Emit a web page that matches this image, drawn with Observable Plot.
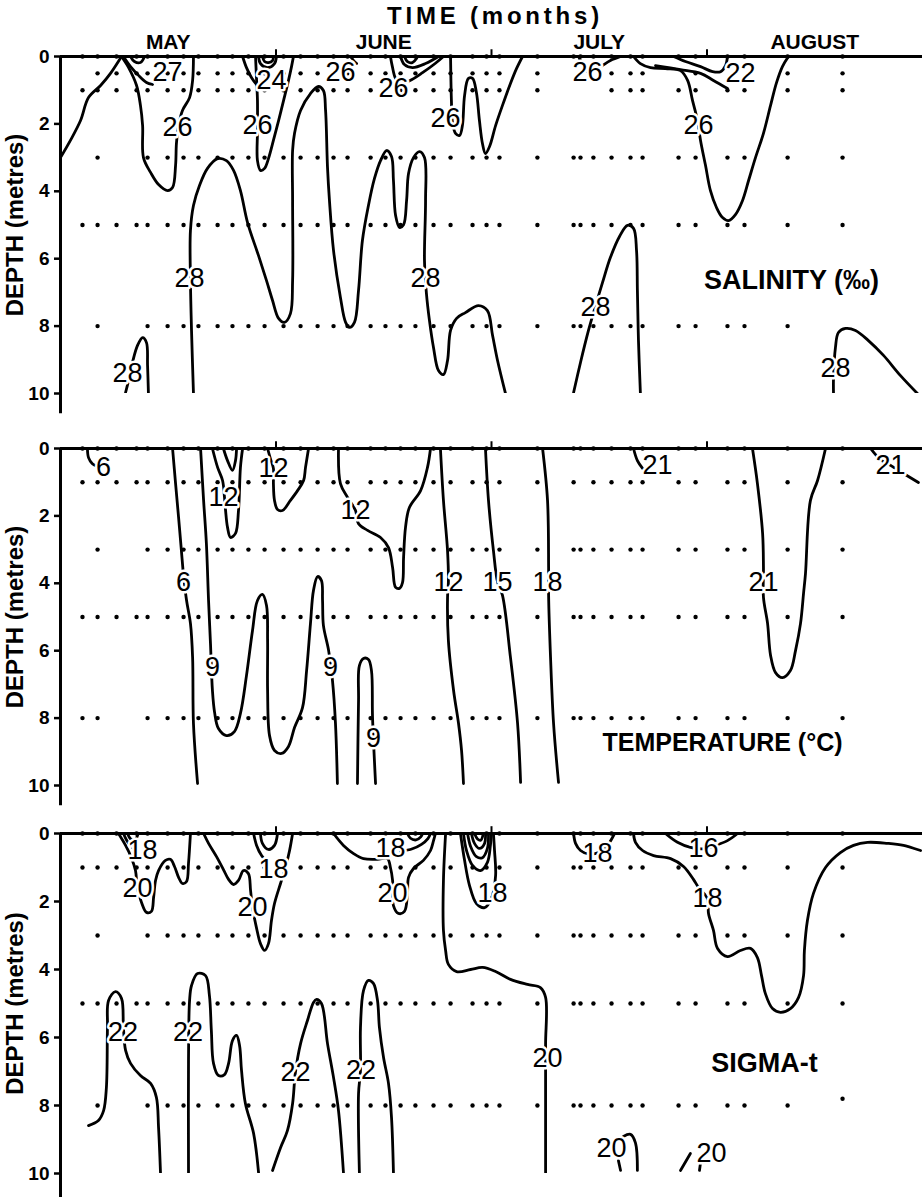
<!DOCTYPE html>
<html><head><meta charset="utf-8">
<script src="https://cdn.jsdelivr.net/npm/d3@7"></script>
<script src="https://cdn.jsdelivr.net/npm/@observablehq/plot@0.6"></script>
<style>
body{margin:0;background:#fff;}
#fig{position:relative;width:923px;height:1197px;overflow:hidden;background:#fff;font-family:"Liberation Sans",Arial,sans-serif;}
.panel{position:absolute;left:0;z-index:1;}
#title{position:absolute;left:345px;top:1px;width:300px;text-align:center;font-size:24px;font-weight:bold;letter-spacing:3.8px;line-height:30px;z-index:5;}
</style></head><body><div id="fig"><div id="title">TIME (months)</div></div>
<script>
// ---------- axes ----------
const monthNames = ["MAY", "JUNE", "JULY", "AUGUST"];
const monthCentres = [0.5, 1.5, 2.5, 3.5];
const monthBounds = [1, 2, 3];
const depthTicks = [0, 2, 4, 6, 8, 10];

// ---------- sampling stations (time in months from 1 May) ----------
const stations = [0.102, 0.172, 0.260, 0.353, 0.404, 0.497, 0.571, 0.640, 0.729, 0.798, 0.872, 0.947,
  1.035, 1.114, 1.193, 1.267, 1.332, 1.439, 1.508, 1.578, 1.647, 1.731, 1.810, 1.912, 1.977, 2.037,
  2.213, 2.381, 2.413, 2.473, 2.557, 2.645, 2.701, 2.868, 2.947, 3.095, 3.174, 3.374, 3.629];
const salDepths = [0, 0.5, 1, 3, 5, 8];
const tempDepths = [0, 1, 3, 5, 8];
const sigDepths = [0, 1, 3, 5, 8];
const salMissing = [[0.5, [0.102, 2.381, 2.413, 2.473, 2.868, 3.095, 3.174]], [1, [2.381, 2.413, 2.473]], [3, [0.102, 0.260, 0.353]], [8, [0.102, 0.260, 0.353, 3.629]]];
const tempMissing = [[1, [2.413]], [3, [0.102, 0.260, 0.353]], [8, [0.260, 0.353]]];
const sigMissing = [[3, [0.102, 0.260, 0.353]], [8, [0.102, 0.260, 0.353, 3.629]]];
const sigExtraDots = [[3.629, 7.8]];

// ---------- salinity isolines [time, depth] ----------
const salLines = [
  [[0,3.00],[0.046,2.49],[0.093,1.90],[0.130,1.22],[0.186,0.86],[0.232,0.50],[0.283,0]],
  [[0.283,0],[0.316,0.33],[0.353,0.86],[0.371,1.45],[0.381,2.05],[0.385,3.00],[0.418,3.44],[0.455,3.80],[0.497,3.98],[0.520,3.89],[0.534,3.23],[0.538,2.58],[0.548,2.05],[0.566,1.60],[0.599,1.22],[0.613,0.71],[0.617,0]],
  [[0.292,0],[0.325,0.30],[0.362,0.56],[0.399,0.77],[0.427,0.83]],
  [[0.325,0],[0.343,0.15],[0.371,0.18],[0.390,0]],
  [[0.302,9.97],[0.316,9.61],[0.334,9.08],[0.357,8.58],[0.381,8.34],[0.399,8.49],[0.404,9.17],[0.408,10]],
  [[0.845,0],[0.863,0.33],[0.886,0.62],[0.910,0.83],[0.933,0.95]],
  [[0.905,0],[0.910,0.71],[0.914,1.31],[0.914,2.20],[0.914,3.09],[0.928,3.38],[0.947,3.32],[0.965,3.03],[0.988,2.49],[1.012,1.90],[1.035,1.31],[1.058,0.71],[1.072,0.30],[1.081,0]],
  [[0.919,0],[0.928,0.21],[0.960,0.33],[0.993,0.21],[1.002,0]],
  [[0.937,0],[0.947,0.15],[0.965,0.18],[0.984,0.12],[0.988,0]],
  [[0.617,10],[0.608,8.13],[0.603,6.65],[0.603,5.16],[0.617,4.42],[0.645,3.83],[0.682,3.32],[0.729,3.03],[0.770,3.09],[0.803,3.38],[0.835,3.98],[0.868,4.93],[0.919,5.91],[0.956,6.65],[0.984,7.24],[1.012,7.77],[1.039,7.89],[1.067,7.63],[1.077,6.65],[1.077,4.27],[1.077,2.79],[1.086,2.28],[1.114,1.60],[1.160,1.10],[1.197,0.89],[1.220,1.01],[1.230,1.60],[1.239,3.29],[1.248,4.27],[1.267,5.76],[1.299,7.15],[1.323,7.89],[1.341,8.04],[1.364,7.89],[1.383,6.94],[1.401,5.46],[1.429,4.42],[1.457,3.62],[1.485,3.09],[1.513,2.79],[1.536,2.97],[1.545,3.68],[1.555,4.72],[1.573,5.07],[1.592,4.99],[1.606,4.27],[1.615,3.47],[1.638,3.00],[1.666,2.82],[1.689,3.00],[1.694,4.27],[1.689,6.05],[1.698,7.03],[1.712,7.83],[1.731,8.64],[1.754,9.32],[1.777,9.44],[1.796,9.02],[1.810,8.13],[1.838,7.77],[1.879,7.60],[1.940,7.39],[1.981,7.54],[2.005,8.28],[2.028,9.02],[2.065,10]],
  [[1.346,0],[1.360,0.12],[1.374,0.21]],
  [[1.531,0],[1.540,0.30],[1.555,0.65],[1.580,0.80],[1.620,0.72],[1.680,0.48],[1.740,0.20],[1.777,0]],
  [[1.578,0],[1.596,0.24],[1.633,0.33],[1.694,0.21],[1.754,0]],
  [[1.596,0],[1.610,0.15],[1.633,0.18],[1.652,0.06],[1.656,0]],
  [[1.810,0],[1.814,1.31],[1.819,1.96],[1.833,2.28],[1.852,2.34],[1.865,2.05],[1.875,1.16],[1.893,0.65],[1.912,0.65],[1.930,1.07],[1.944,1.90],[1.958,2.58],[1.972,2.88],[1.991,2.67],[2.019,2.05],[2.051,1.45],[2.088,0.80],[2.116,0.36],[2.144,0]],
  [[2.404,0],[2.422,0.24],[2.445,0.45],[2.475,0.40],[2.506,0.30],[2.552,0.12],[2.599,0]],
  [[2.659,0],[2.691,0.21],[2.738,0.33],[2.807,0.36],[2.877,0.42],[2.910,0.71],[2.933,1.31],[2.956,1.90],[2.970,2.49],[2.993,3.23],[3.016,3.98],[3.044,4.48],[3.072,4.78],[3.100,4.87],[3.132,4.69],[3.165,4.27],[3.193,3.68],[3.225,3.00],[3.262,2.28],[3.295,1.45],[3.323,0.77],[3.350,0.30],[3.378,0]],
  [[2.845,0],[2.900,0.15],[2.970,0.30],[3.026,0.45],[3.063,0.45],[3.086,0.27],[3.095,0]],
  [[2.761,0.27],[2.877,0.39],[2.970,0.50],[3.030,0.71],[3.095,0.95]],
  [[2.381,9.97],[2.413,9.08],[2.450,8.13],[2.483,7.39],[2.515,6.71],[2.552,5.96],[2.594,5.34],[2.631,5.01],[2.659,5.10],[2.673,5.76],[2.677,6.94],[2.682,8.43],[2.691,10]],
  [[3.587,10],[3.587,9.55],[3.596,8.64],[3.610,8.19],[3.643,8.07],[3.689,8.13],[3.749,8.43],[3.819,8.87],[3.898,9.47],[3.981,10.03]]
];
const salLabels = [
  {v:"27",t:0.497,d:0.47},{v:"26",t:0.543,d:2.11},{v:"28",t:0.311,d:9.41},{v:"26",t:0.914,d:2.05},
  {v:"24",t:0.979,d:0.71},{v:"28",t:0.599,d:6.59},{v:"26",t:1.299,d:0.47},{v:"26",t:1.545,d:0.95},
  {v:"28",t:1.694,d:6.59},{v:"26",t:1.787,d:1.84},{v:"26",t:2.445,d:0.47},{v:"26",t:2.961,d:2.05},
  {v:"22",t:3.155,d:0.50},{v:"28",t:2.483,d:7.45},{v:"28",t:3.596,d:9.26}
];

// ---------- temperature isolines ----------
const tempLines = [
  [[0.125,0],[0.130,0.27],[0.148,0.45],[0.172,0.53]],
  [[0.520,0],[0.534,1.04],[0.548,2.05],[0.561,3.03],[0.571,3.77],[0.585,4.51],[0.603,5.19],[0.613,6.20],[0.617,8.16],[0.636,9.94]],
  [[0.650,0],[0.664,1.54],[0.677,2.82],[0.687,4.51],[0.696,5.79],[0.705,7.18],[0.715,7.83],[0.733,8.31],[0.770,8.52],[0.807,8.40],[0.835,7.86],[0.863,6.74],[0.891,5.40],[0.914,4.51],[0.937,4.33],[0.956,4.66],[0.961,5.70],[0.961,7.18],[0.970,8.52],[0.993,8.96],[1.026,9.05],[1.058,8.84],[1.086,8.28],[1.123,7.69],[1.142,6.59],[1.160,5.19],[1.174,4.21],[1.193,3.80],[1.211,3.92],[1.216,4.51],[1.220,5.25],[1.244,5.99],[1.262,6.88],[1.276,8.16],[1.285,9.94]],
  [[1.378,9.94],[1.383,7.48],[1.387,6.44],[1.406,6.23],[1.429,6.26],[1.443,6.59],[1.448,7.98],[1.462,9.94]],
  [[0.705,0],[0.729,0.56],[0.752,0.95],[0.761,1.45],[0.766,1.84],[0.775,2.34],[0.789,2.64],[0.812,2.52],[0.826,1.84],[0.835,0.56],[0.845,0]],
  [[0.756,0],[0.775,0.36],[0.798,0.65],[0.812,0.36],[0.817,0]],
  [[0.961,0],[0.974,0.30],[0.988,0.59],[0.988,1.04],[0.993,1.54],[1.007,1.81],[1.030,1.84],[1.067,1.54],[1.100,1.25],[1.128,0.95],[1.137,0.56],[1.151,0]],
  [[1.290,0],[1.299,1.04],[1.332,1.45],[1.369,1.84],[1.383,2.23],[1.425,2.43],[1.485,2.64],[1.522,2.94],[1.541,3.53],[1.555,4.12],[1.573,4.15],[1.587,3.98],[1.592,3.23],[1.601,2.34],[1.619,1.75],[1.671,1.25],[1.703,0.56],[1.717,0]],
  [[1.763,0],[1.777,1.54],[1.796,3.03],[1.800,3.96],[1.796,4.42],[1.800,5.70],[1.824,7.18],[1.847,8.16],[1.861,8.96],[1.870,9.94]],
  [[1.972,0],[1.986,1.54],[2.009,3.03],[2.028,3.96],[2.051,4.36],[2.088,6.20],[2.121,8.16],[2.135,9.91]],
  [[2.237,0],[2.260,1.54],[2.265,3.53],[2.265,4.36],[2.274,6.20],[2.288,8.16],[2.311,9.91]],
  [[2.659,0],[2.677,0.36],[2.701,0.59]],
  [[3.211,0],[3.234,1.04],[3.258,2.52],[3.262,3.53],[3.262,4.42],[3.281,5.19],[3.295,6.14],[3.318,6.65],[3.350,6.80],[3.387,6.59],[3.411,5.99],[3.434,5.19],[3.448,4.30],[3.457,3.71],[3.480,1.54],[3.513,0.95],[3.550,0]],
  [[3.759,0],[3.805,0.33],[3.852,0.50],[3.912,0.74],[3.981,1.01]]
];
const tempLabels = [
  {v:"6",t:0.200,d:0.56},{v:"6",t:0.571,d:3.96},{v:"9",t:0.705,d:6.50},{v:"9",t:1.253,d:6.50},
  {v:"9",t:1.452,d:8.61},{v:"12",t:0.756,d:1.45},{v:"12",t:0.988,d:0.59},{v:"12",t:1.369,d:1.84},
  {v:"12",t:1.800,d:3.96},{v:"15",t:2.028,d:3.96},{v:"18",t:2.260,d:3.96},{v:"21",t:2.770,d:0.50},
  {v:"21",t:3.262,d:3.96},{v:"21",t:3.852,d:0.50}
];

// ---------- sigma-t isolines ----------
const sigLines = [
  [[0.292,0],[0.311,0.24],[0.334,0.41],[0.353,0.50]],
  [[0.311,0],[0.325,0.16],[0.345,0.20],[0.360,0]],
  [[0.269,0],[0.302,0.35],[0.329,0.71],[0.348,1.09],[0.357,1.62],[0.376,2.03],[0.399,2.32],[0.422,2.29],[0.432,1.88],[0.441,1.38],[0.455,1.09],[0.487,0.79],[0.510,0.76],[0.529,0.97],[0.548,1.29],[0.566,1.47],[0.585,1.41],[0.594,0.88],[0.603,0]],
  [[0.896,0],[0.910,0.35],[0.933,0.65],[0.956,0.82]],
  [[0.928,0],[0.937,0.29],[0.965,0.47],[0.993,0.35],[1.007,0]],
  [[0.664,0],[0.687,0.29],[0.724,0.68],[0.756,1.06],[0.780,1.35],[0.803,1.50],[0.826,1.38],[0.849,1.09],[0.872,1.18],[0.882,1.68],[0.891,2.18],[0.910,2.79],[0.928,3.24],[0.947,3.44],[0.965,3.24],[0.979,2.56],[0.993,2.06],[1.021,1.47],[1.044,1.00],[1.063,0.50],[1.077,0]],
  [[1.267,0],[1.313,0.35],[1.360,0.59],[1.406,0.74],[1.471,0.76],[1.517,0.74],[1.531,1.00],[1.541,1.38],[1.545,2.12],[1.568,2.35],[1.596,2.29],[1.610,1.76],[1.615,1.29],[1.638,1.03],[1.684,0.79],[1.717,0.50],[1.731,0.21],[1.740,0]],
  [[1.578,0.53],[1.633,0.45],[1.675,0.32],[1.705,0.15],[1.717,0]],
  [[1.610,0],[1.624,0.14],[1.650,0.19],[1.672,0.10],[1.680,0]],
  [[1.787,0],[1.777,1.38],[1.777,2.85],[1.787,3.44],[1.800,3.85],[1.838,4.06],[1.903,4.00],[1.959,3.94],[2.019,4.06],[2.088,4.29],[2.167,4.44],[2.227,4.53],[2.251,4.82],[2.251,6.18],[2.251,7.18],[2.251,9.97]],
  [[1.856,0],[1.875,0.79],[1.898,1.53],[1.930,2.06],[1.968,2.18],[2.000,1.90],[2.019,1.24],[2.014,0.50],[2.009,0]],
  [[1.870,0],[1.884,0.50],[1.912,0.94],[1.949,1.09],[1.981,0.85],[1.995,0.35],[2.000,0]],
  [[1.889,0],[1.903,0.38],[1.930,0.68],[1.958,0.71],[1.981,0.44],[1.986,0]],
  [[1.907,0],[1.921,0.29],[1.944,0.44],[1.968,0.29],[1.972,0]],
  [[1.921,0],[1.935,0.16],[1.950,0.20],[1.962,0]],
  [[2.381,0],[2.390,0.29],[2.413,0.50],[2.450,0.60],[2.500,0.55],[2.540,0.33],[2.571,0]],
  [[2.807,0],[2.863,0.26],[2.923,0.41],[2.984,0.45],[3.039,0.35],[3.095,0.21],[3.142,0]],
  [[2.659,0],[2.668,0.26],[2.701,0.50],[2.752,0.65],[2.831,0.74],[2.891,0.97],[2.937,1.35],[2.961,1.59],[3.002,1.91],[3.007,2.35],[3.030,2.85],[3.049,3.38],[3.095,3.62],[3.155,3.44],[3.202,3.38],[3.234,3.65],[3.253,4.18],[3.271,4.71],[3.304,5.15],[3.341,5.26],[3.387,5.15],[3.425,4.82],[3.448,4.18],[3.452,3.44],[3.466,2.56],[3.494,1.76],[3.550,1.00],[3.619,0.56],[3.680,0.35],[3.745,0.26],[3.838,0.29],[3.912,0.35],[3.991,0.50]],
  [[0.130,8.59],[0.176,8.44],[0.200,8.15],[0.213,7.47],[0.218,5.71],[0.223,4.91],[0.255,4.65],[0.283,4.85],[0.292,5.71],[0.302,6.38],[0.325,6.76],[0.371,7.12],[0.418,7.35],[0.445,7.76],[0.455,8.65],[0.464,9.97]],
  [[0.594,9.97],[0.594,6.68],[0.599,4.91],[0.608,4.47],[0.636,4.12],[0.673,4.18],[0.691,4.76],[0.700,5.79],[0.710,6.76],[0.733,7.12],[0.761,7.09],[0.780,6.76],[0.798,6.09],[0.817,5.94],[0.831,6.24],[0.840,6.97],[0.858,7.94],[0.896,8.82],[0.919,9.97]],
  [[0.984,9.91],[1.021,9.24],[1.053,8.74],[1.077,7.94],[1.090,7.03],[1.114,6.18],[1.146,5.50],[1.174,4.97],[1.188,4.88],[1.211,5.00],[1.239,6.18],[1.267,7.18],[1.290,8.15],[1.313,9.97]],
  [[1.387,9.97],[1.383,7.65],[1.392,6.97],[1.392,5.71],[1.406,4.62],[1.429,4.32],[1.452,4.41],[1.471,4.91],[1.480,5.71],[1.499,6.59],[1.522,7.35],[1.536,8.35],[1.545,9.97]],
  [[2.612,8.91],[2.645,8.85],[2.668,9.10],[2.677,9.91]],
  [[2.589,9.62],[2.599,9.91]],
  [[2.877,9.91],[2.923,9.41]],
  [[2.970,9.68],[2.965,9.91]]
];
const sigLabels = [
  {v:"18",t:0.381,d:0.50},{v:"20",t:0.357,d:1.62},{v:"18",t:0.988,d:1.06},{v:"20",t:0.891,d:2.18},
  {v:"18",t:1.531,d:0.44},{v:"20",t:1.541,d:1.76},{v:"18",t:2.005,d:1.76},{v:"18",t:2.492,d:0.59},
  {v:"16",t:2.984,d:0.44},{v:"18",t:3.002,d:1.91},{v:"20",t:2.260,d:6.62},{v:"22",t:0.290,d:5.85},
  {v:"22",t:0.592,d:5.85},{v:"22",t:1.090,d:7.03},{v:"22",t:1.395,d:6.97},{v:"20",t:2.557,d:9.26},
  {v:"20",t:3.021,d:9.41}
];

// ---------- panel titles ----------
const panelTitles = [
  {text:"SALINITY (‰)", t:3.392, d:6.65, size:27},
  {text:"TEMPERATURE (°C)", t:3.072, d:8.75, size:25},
  {text:"SIGMA-t", t:3.267, d:6.76, size:27}
];

const FONT = "'Liberation Sans',Arial,sans-serif";

function buildDots(depths, missing, extra = []) {
  const out = [];
  for (const d of depths) {
    const miss = (missing.find(m => m[0] === d) || [d, []])[1];
    for (const s of stations) if (!miss.includes(s)) out.push({t: s, d});
  }
  for (const [t, d] of extra) out.push({t, d});
  return out;
}
function buildRows(lines) {
  const rows = [];
  lines.forEach((pts, i) => pts.forEach(([t, d]) => rows.push({id: i, t, d})));
  return rows;
}

function makePanel({lines, labels, dots, title, extend, height, mt, mb, months}) {
  const svg = Plot.plot({
    width: 923, height, marginLeft: 60, marginRight: 1, marginTop: mt, marginBottom: mb,
    x: {domain: [0, 4], axis: null},
    y: {domain: [0, 10], reverse: true, axis: null},
    style: {fontFamily: FONT, fontSize: "18px", fontWeight: "bold", background: "white", overflow: "visible"},
    marks: [
      Plot.dot(dots, {x: "t", y: "d", r: 2.2, fill: "black", stroke: null}),
      Plot.line(buildRows(lines), {x: "t", y: "d", z: "id", curve: "catmull-rom", stroke: "black", strokeWidth: 2.8, clip: true}),
      Plot.text(labels, {x: "t", y: "d", text: "v", fontSize: 27, fontFamily: FONT, fontWeight: "normal", fill: "black", stroke: "white", strokeWidth: 5}),
      Plot.ruleY([0], {stroke: "black", strokeWidth: 3}),
      Plot.ruleX([0], {y1: 0, y2: extend, stroke: "black", strokeWidth: 3}),
      Plot.ruleX(monthBounds, {y1: 0, y2: -0.2, stroke: "black", strokeWidth: 2}),
      Plot.axisY(depthTicks, {anchor: "left", tickSize: 6, tickPadding: 5, strokeWidth: 2.5, fontSize: 19, fontWeight: "bold", label: null}),
      months ? Plot.axisX(monthCentres, {anchor: "top", tickSize: 0, tickPadding: 8, tickFormat: d => monthNames[Math.floor(d)], fontSize: 21, fontWeight: "bold", label: null}) : null,
      Plot.text([title], {x: "t", y: "d", text: "text", fontSize: title.size, fontFamily: FONT, fontWeight: "bold", fill: "black"}),
      Plot.text(["DEPTH (metres)"], {frameAnchor: "left", textAnchor: "middle", dx: -45, rotate: -90, fontSize: 24, fontFamily: FONT, fontWeight: "bold", fill: "black"})
    ]
  });
  // make sure axis tick labels use the intended sizes
  d3.select(svg).selectAll('g[aria-label="y-axis tick label"]').attr("font-size", 19).selectAll("text").style("font-size", "19px");
  d3.select(svg).selectAll('g[aria-label="x-axis tick label"]').attr("font-size", 21).selectAll("text").style("font-size", "21px");
  return svg;
}

const fig = document.getElementById("fig");
const specs = [
  {top: 0, lines: salLines, labels: salLabels, dots: buildDots(salDepths, salMissing), title: panelTitles[0], extend: 10.6, height: 420, mt: 56, mb: 27, months: true},
  {top: 420, lines: tempLines, labels: tempLabels, dots: buildDots(tempDepths, tempMissing), title: panelTitles[1], extend: 10.6, height: 390, mt: 28, mb: 25, months: false},
  {top: 810, lines: sigLines, labels: sigLabels, dots: buildDots(sigDepths, sigMissing, sigExtraDots), title: panelTitles[2], extend: 10.8, height: 387, mt: 23, mb: 24, months: false}
];
for (const s of specs) {
  const div = document.createElement("div");
  div.className = "panel";
  div.style.top = s.top + "px";
  div.appendChild(makePanel(s));
  fig.appendChild(div);
}
</script></body></html>
